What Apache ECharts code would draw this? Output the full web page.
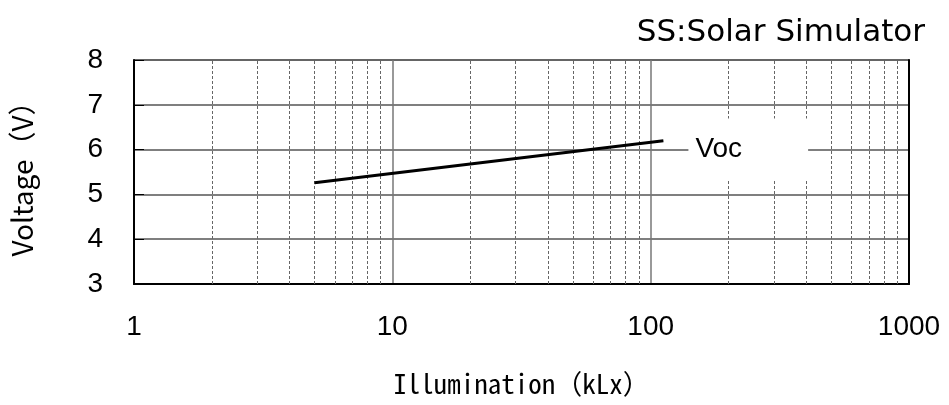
<!DOCTYPE html>
<html>
<head>
<meta charset="utf-8">
<script src="https://cdn.jsdelivr.net/npm/echarts@6/dist/echarts.min.js"></script>
<style>html,body{margin:0;padding:0;background:#fff;}#c{width:949px;height:405px;}</style>
</head>
<body>
<div id="c"></div>
<script>
var yTicks = [3, 4, 5, 6, 7, 8];
var xTicks = [1, 10, 100, 1000];
var minorX = [2, 3, 4, 5, 6, 7, 8, 9, 20, 30, 40, 50, 60, 70, 80, 90, 200, 300, 400, 500, 600, 700, 800, 900];
var vocData = [[5, 5.26], [112, 6.2]];
var vocLabelAt = [140, 6];

var chart = echarts.init(document.getElementById('c'));
var tickFont = 'Liberation Sans, Arial, sans-serif';
chart.setOption({
  animation: false,
  title: {
    text: 'SS:Solar Simulator',
    right: 19, top: 12,
    textStyle: { fontFamily: 'DejaVu Sans', fontSize: 31, fontWeight: 'normal', color: '#000' }
  },
  grid: { left: 130, right: 40, top: 60, bottom: 121, show: true, borderColor: '#777', borderWidth: 1.5 },
  xAxis: {
    type: 'log', logBase: 10, min: 1, max: 1000,
    name: 'Illumination（kLx）', nameLocation: 'middle', nameGap: 86,
    nameTextStyle: { fontFamily: "'Noto Sans Mono CJK JP', 'Noto Sans CJK JP', sans-serif", fontSize: 27, color: '#000' },
    axisLine: { show: true, lineStyle: { color: '#000', width: 2 } },
    axisTick: { show: false },
    axisLabel: { fontFamily: tickFont, fontSize: 28, color: '#000', margin: 29,
      formatter: function (v) { return String(v); } },
    splitLine: { show: true, lineStyle: { color: '#777', width: 1.5 } }
  },
  yAxis: [{
    type: 'value', min: 3, max: 8, interval: 1,
    name: 'Voltage（V）', nameLocation: 'middle', nameGap: 98, nameRotate: 90,
    nameTextStyle: { fontFamily: "'Noto Sans CJK JP', sans-serif", fontSize: 28, color: '#000' },
    axisLine: { show: true, lineStyle: { color: '#000', width: 2 } },
    axisTick: { show: true, inside: true, length: 10, lineStyle: { color: '#000' } },
    axisLabel: { fontFamily: tickFont, fontSize: 28, color: '#000', margin: 31 },
    splitLine: { show: true, lineStyle: { color: '#555', width: 1.5 } }
  }, {
    type: 'value', min: 3, max: 8, interval: 1, position: 'right',
    axisLine: { show: true, lineStyle: { color: '#000', width: 2 } },
    axisTick: { show: false }, axisLabel: { show: false }, splitLine: { show: false }
  }],
  series: [{
    type: 'line',
    data: vocData,
    showSymbol: false,
    lineStyle: { color: '#000', width: 3 },
    z: 5,
    markLine: {
      silent: true, symbol: 'none', label: { show: false },
      lineStyle: { color: '#666', type: [3, 2], width: 1 },
      data: minorX.map(function (v) { return { xAxis: v }; })
    }
  }, {
    type: 'scatter',
    data: [vocLabelAt],
    symbolSize: 0,
    z: 10,
    itemStyle: { opacity: 1 },
    label: {
      show: true, position: 'right', distance: 0,
      formatter: 'Voc',
      fontFamily: tickFont, fontSize: 28, color: '#000',
      backgroundColor: '#fff',
      padding: [18, 66, 16, 7]
    }
  }]
});
</script>
</body>
</html>
